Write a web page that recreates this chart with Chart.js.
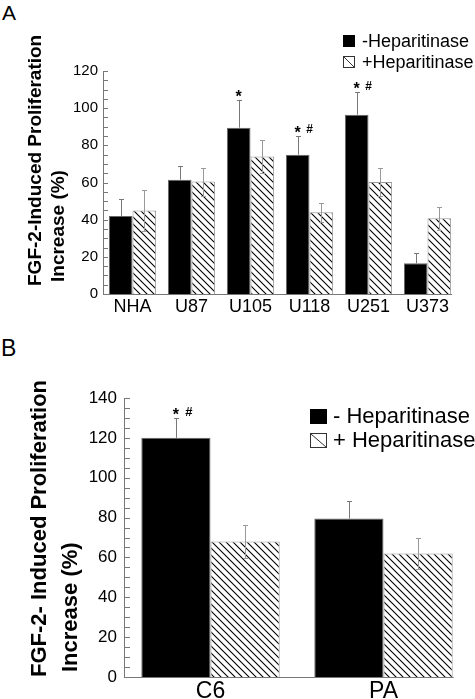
<!DOCTYPE html>
<html><head><meta charset="utf-8">
<script src="https://cdn.jsdelivr.net/npm/chart.js@4/dist/chart.umd.min.js"></script>
<style>
html,body{margin:0;padding:0;background:#fff;width:475px;height:699px;overflow:hidden}
canvas{position:absolute;left:0}
#ca{top:0}
#cb{top:330px}
.lbl{position:absolute;font-family:"Liberation Sans",Arial,sans-serif;color:#000;line-height:1}
</style></head><body>
<div class="lbl" style="left:2px;top:2px;font-size:21px">A</div>
<div class="lbl" style="left:1px;top:337px;font-size:23px">B</div>
<canvas id="ca" width="475" height="330"></canvas>
<canvas id="cb" width="475" height="369"></canvas>
<script>
// ---------- Panel A data ----------
const categoriesA = ['NHA', 'U87', 'U105', 'U118', 'U251', 'U373'];
const minusHepA = [42, 61.5, 89.5, 75, 96.5, 16.5];
const minusErrA = [9, 7.2, 15, 10, 12, 5.5];
const plusHepA = [45, 60.5, 74, 44, 60.3, 40.7];
const plusErrA = [11, 7.5, 9, 5, 7.5, 6];
const marksA = ['', '', '*', '*#', '*#', ''];
const yTicksA = [0, 20, 40, 60, 80, 100, 120];
const legendLabelsA = ['-Heparitinase', '+Heparitinase'];
const yTitleA = ['FGF-2-Induced Proliferation', 'Increase (%)'];

// ---------- Panel B data ----------
const categoriesB = ['C6', 'PA'];
const minusHepB = [120, 79.5];
const minusErrB = [10, 9];
const plusHepB = [68, 62];
const plusErrB = [8.4, 8];
const marksB = ['*#', ''];
const yTicksB = [0, 20, 40, 60, 80, 100, 120, 140];
const legendLabelsB = ['- Heparitinase', '+ Heparitinase'];
const yTitleB = ['FGF-2- Induced Proliferation', 'Increase (%)'];

const FAM = '"Liberation Sans", Arial, Helvetica, sans-serif';

function makeHatch(ctx) {
  const c = document.createElement('canvas');
  c.width = 7; c.height = 7;
  const g = c.getContext('2d');
  g.fillStyle = '#fff'; g.fillRect(0, 0, 7, 7);
  g.strokeStyle = '#000'; g.lineWidth = 1.1;
  g.beginPath();
  g.moveTo(-1, -1); g.lineTo(8, 8);
  g.moveTo(-1, 6); g.lineTo(1, 8);
  g.moveTo(6, -1); g.lineTo(8, 1);
  g.stroke();
  return ctx.createPattern(c, 'repeat');
}

const extras = {
  id: 'extras',
  afterDatasetsDraw(chart, args, o) {
    const ctx = chart.ctx, ys = chart.scales.y, ca = chart.chartArea;
    ctx.save();
    // error bars
    o.errors.forEach((errs, di) => {
      const meta = chart.getDatasetMeta(di);
      const vals = chart.data.datasets[di].data;
      meta.data.forEach((bar, i) => {
        const v = vals[i];
        const top = Math.round(ys.getPixelForValue(v + errs[i])) + 0.5;
        const bot = di === 0 ? bar.y : Math.round(ys.getPixelForValue(v - errs[i])) + 0.5;
        const cx = Math.round(bar.x) + 0.5;
        ctx.strokeStyle = o.errColors[di]; ctx.lineWidth = 1;
        ctx.beginPath();
        ctx.moveTo(cx, top); ctx.lineTo(cx, bot);
        ctx.moveTo(cx - o.cap, top); ctx.lineTo(cx + o.cap, top);
        if (di === 1) { ctx.moveTo(cx - o.cap, bot); ctx.lineTo(cx + o.cap, bot); }
        ctx.stroke();
      });
    });
    // significance marks
    const m0 = chart.getDatasetMeta(0);
    const d0 = chart.data.datasets[0].data;
    o.marks.forEach((s, i) => {
      if (!s) return;
      const bar = m0.data[i];
      const cy = ys.getPixelForValue(d0[i] + o.errors[0][i]) - o.markGap;
      ctx.fillStyle = '#000'; ctx.textAlign = 'center'; ctx.textBaseline = 'alphabetic';
      if (s.includes('*')) {
        ctx.font = 'bold ' + o.starSize + 'px ' + FAM;
        ctx.fillText('*', bar.x, cy + 0.56 * o.starSize);
      }
      if (s.includes('#')) {
        ctx.font = 'bold ' + o.hashSize + 'px ' + FAM;
        ctx.fillText('#', bar.x + o.hashDx, cy + 0.36 * o.hashSize);
      }
    });
    // x axis line up to last bar edge
    const m1 = chart.getDatasetMeta(1);
    const last = m1.data[m1.data.length - 1];
    const xr = last.x + last.width / 2 + 1;
    const yb = Math.round(ca.bottom) + 0.5;
    ctx.strokeStyle = o.axisColor; ctx.lineWidth = 1;
    ctx.beginPath(); ctx.moveTo(ca.left, yb); ctx.lineTo(xr, yb); ctx.stroke();
    // inner minor ticks
    ctx.beginPath();
    for (let v = ys.min; v <= ys.max; v += o.minorStep) {
      const py = Math.round(ys.getPixelForValue(v)) + 0.5;
      ctx.moveTo(ca.left, py); ctx.lineTo(ca.left + o.tickLen, py);
    }
    ctx.stroke();
    // legend
    const L = o.legend;
    chart.data.datasets.forEach((ds, i) => {
      const cy = L.y0 + i * L.dy;
      const bx = L.x, by = Math.round(cy - L.bh / 2);
      if (i === 0) {
        ctx.fillStyle = '#000'; ctx.fillRect(bx, by, L.bw, L.bh);
      } else {
        ctx.fillStyle = '#fff'; ctx.fillRect(bx, by, L.bw, L.bh);
        ctx.strokeStyle = '#333'; ctx.lineWidth = 1;
        ctx.strokeRect(bx + 0.5, by + 0.5, L.bw - 1, L.bh - 1);
        ctx.beginPath(); ctx.moveTo(bx + 1, by + 1); ctx.lineTo(bx + L.bw - 1, by + L.bh - 1); ctx.stroke();
      }
      ctx.fillStyle = '#000'; ctx.font = L.size + 'px ' + FAM;
      ctx.textAlign = 'left'; ctx.textBaseline = 'middle';
      ctx.fillText(ds.label, bx + L.tdx, cy + 1);
    });
    // y title (rotated, start-aligned)
    const T = o.title;
    ctx.font = 'bold ' + T.size + 'px ' + FAM;
    ctx.fillStyle = '#000'; ctx.textAlign = 'left'; ctx.textBaseline = 'middle';
    T.lines.forEach((t, i) => {
      ctx.save();
      ctx.translate(T.x[i], T.y[i]);
      ctx.rotate(-Math.PI / 2);
      ctx.fillText(t, 0, 0);
      ctx.restore();
    });
    ctx.restore();
  }
};

function build(id, cats, minus, minusErr, plus, plusErr, marks, yTicks, labels, title, cfg) {
  const canvas = document.getElementById(id);
  const ctx = canvas.getContext('2d');
  const hatch = makeHatch(ctx);
  return new Chart(ctx, {
    type: 'bar',
    data: {
      labels: cats,
      datasets: [
        { label: labels[0], data: minus, backgroundColor: '#000', borderColor: '#666', borderWidth: 1,
          categoryPercentage: 0.8, barPercentage: 1.0 },
        { label: labels[1], data: plus, backgroundColor: hatch, borderColor: '#999', borderWidth: 1,
          categoryPercentage: 0.8, barPercentage: 1.0 }
      ]
    },
    options: {
      responsive: false, animation: false, devicePixelRatio: 1,
      layout: { padding: { top: cfg.padTop, right: cfg.padRight, left: 0, bottom: 0 } },
      plugins: {
        legend: { display: false }, tooltip: { enabled: false },
        extras: {
          errors: [minusErr, plusErr], errColors: ['#777', '#999'], cap: 2.5,
          marks: marks, markGap: cfg.markGap, starSize: cfg.starSize, hashSize: cfg.hashSize, hashDx: cfg.hashDx,
          axisColor: '#777', minorStep: 5, tickLen: cfg.tickLen,
          legend: cfg.legend,
          title: { lines: title, size: cfg.titleSize, x: cfg.titleX, y: cfg.titleY }
        }
      },
      scales: {
        x: {
          type: 'category', offset: true,
          grid: { display: false, drawTicks: false }, border: { display: false },
          ticks: { color: '#000', font: { family: FAM, size: cfg.xFont }, padding: cfg.xPad, maxRotation: 0, autoSkip: false },
          afterFit(s) { s.height = cfg.xHeight; }
        },
        y: {
          min: 0, max: yTicks[yTicks.length - 1],
          grid: { display: false, drawTicks: false }, border: { display: true, color: '#777', width: 1 },
          ticks: { color: '#000', font: { family: FAM, size: cfg.yFont }, padding: cfg.yPad },
          afterBuildTicks(s) { s.ticks = yTicks.map(v => ({ value: v })); },
          afterFit(s) { s.width = cfg.yWidth; }
        }
      }
    },
    plugins: [extras]
  });
}

build('ca', categoriesA, minusHepA, minusErrA, plusHepA, plusErrA, marksA, yTicksA, legendLabelsA, yTitleA, {
  padTop: 71, padRight: 18, xHeight: 36, yWidth: 103, xFont: 18, xPad: 2, yFont: 15, yPad: 5,
  markGap: 7, starSize: 16, hashSize: 12, hashDx: 12, tickLen: 5,
  legend: { x: 343, y0: 41, dy: 21, bw: 12, bh: 12, tdx: 19, size: 18 },
  titleSize: 19, titleX: [36, 59], titleY: [286, 282]
});

build('cb', categoriesB, minusHepB, minusErrB, plusHepB, plusErrB, marksB, yTicksB, legendLabelsB, yTitleB, {
  padTop: 68, padRight: 5, xHeight: 22, yWidth: 124, xFont: 23, xPad: 1, yFont: 17, yPad: 7,
  markGap: 7, starSize: 16, hashSize: 13, hashDx: 13, tickLen: 6,
  legend: { x: 310, y0: 86, dy: 24, bw: 17, bh: 15, tdx: 23, size: 22 },
  titleSize: 22, titleX: [40, 71], titleY: [347, 342]
});
</script>
</body></html>
